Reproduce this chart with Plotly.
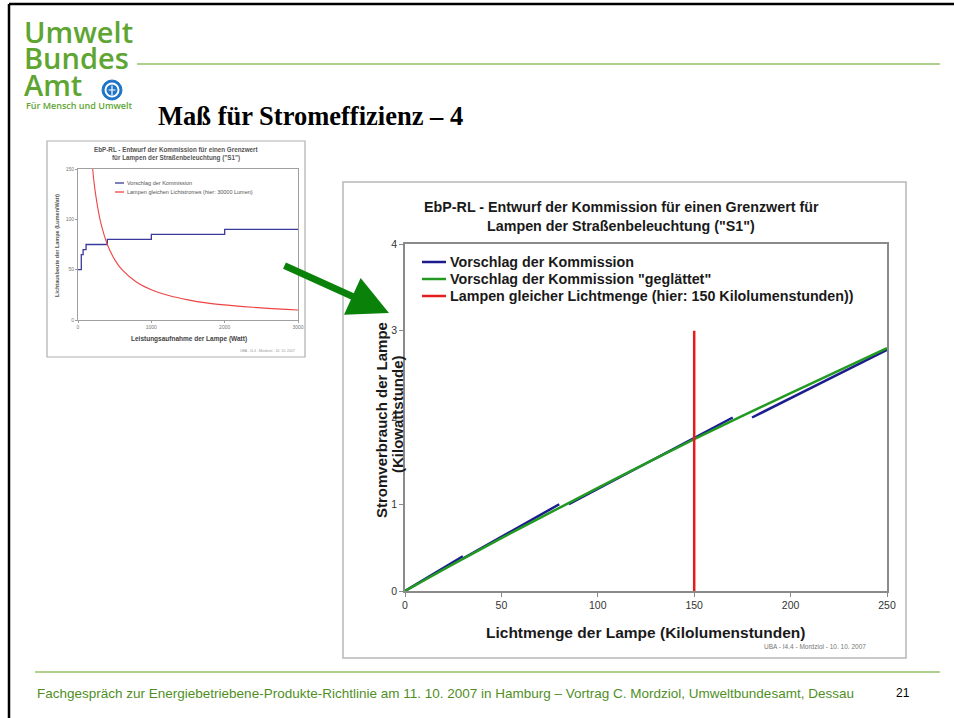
import plotly.graph_objects as go

W, H = 954, 718

# ---------------- data: main chart ----------------
blue_x = [0, 30, None, 30, 80, None, 85, 170, None, 180, 250]
blue_y = [0, 0.40, None, 0.375, 1.0, None, 1.0, 2.0, None, 2.0, 2.78]
green_x = [0, 25, 50, 75, 100, 125, 150, 175, 200, 225, 250]
green_y = [0, 0.31, 0.61, 0.90, 1.19, 1.47, 1.75, 2.02, 2.28, 2.54, 2.80]
red_x = [150, 150]
red_y = [0, 3]
main_xticks = [0, 50, 100, 150, 200, 250]
main_yticks = [0, 1, 2, 3, 4]
main_names = ["Vorschlag der Kommission",
              'Vorschlag der Kommission "geglättet"',
              "Lampen gleicher Lichtmenge (hier: 150 Kilolumenstunden))"]

# ---------------- data: inset chart ----------------
inset_blue_x = [0, 45, 70, 110, 400, 1000, 2000, 3000]
inset_blue_y = [50, 65, 70, 75, 80, 85, 90, 90]
inset_red_x = [185, 220, 250, 300, 350, 400, 500, 600, 800, 1000, 1250, 1500, 1750, 2000, 2500, 3000]
inset_red_y = [162, 136, 120, 100, 86, 75, 60, 50, 37.5, 30, 24, 20, 17, 15, 12, 10]
inset_xticks = [0, 1000, 2000, 3000]
inset_yticks = [0, 50, 100, 150]
inset_names = ["Vorschlag der Kommission", "Lampen gleichen Lichtstromes (hier: 30000 Lumen)"]

NAVY = "#1c1c8f"
GREEN = "#229a22"
RED = "#e41e1e"
LOGO_GREEN = "#5ea532"
LINE_GREEN = "#95c267"
FOOT_GREEN = "#4f8f1f"
I_BLUE = "#3a3a9a"
I_RED = "#ee4444"


def px(x):
    return x / W


def py(y):
    return 1 - y / H


fig = go.Figure()

# main chart traces
fig.add_trace(go.Scatter(x=blue_x, y=blue_y, mode="lines", name=main_names[0], showlegend=False,
                         line=dict(color=NAVY, width=2.5), xaxis="x", yaxis="y"))
fig.add_trace(go.Scatter(x=green_x, y=green_y, mode="lines", name=main_names[1], showlegend=False,
                         line=dict(color=GREEN, width=2.5, shape="spline"), xaxis="x", yaxis="y"))
fig.add_trace(go.Scatter(x=red_x, y=red_y, mode="lines", name=main_names[2], showlegend=False,
                         line=dict(color=RED, width=2.5), xaxis="x", yaxis="y"))

# inset traces
fig.add_trace(go.Scatter(x=inset_blue_x, y=inset_blue_y, mode="lines", name=inset_names[0], showlegend=False,
                         line=dict(color=I_BLUE, width=1.3, shape="hv"), xaxis="x2", yaxis="y2"))
fig.add_trace(go.Scatter(x=inset_red_x, y=inset_red_y, mode="lines", name=inset_names[1], showlegend=False,
                         line=dict(color=I_RED, width=1.1, shape="spline"), xaxis="x2", yaxis="y2"))

axis_common = dict(showgrid=False, zeroline=False, showline=True, mirror=True, ticks="outside")

fig.update_layout(
    width=W, height=H, autosize=False,
    margin=dict(l=0, r=0, t=0, b=0, autoexpand=False),
    paper_bgcolor="white", plot_bgcolor="white",
    font=dict(family="Liberation Sans, Arial, sans-serif"),
    xaxis=dict(domain=[px(405), px(887)], range=[0, 250], tickvals=main_xticks,
               linecolor="#8a8a8a", linewidth=1.5, ticklen=4, tickcolor="#8a8a8a",
               tickfont=dict(size=10.5, color="#333333"), anchor="y", **axis_common),
    yaxis=dict(domain=[py(591), py(244)], range=[0, 4], tickvals=main_yticks,
               linecolor="#8a8a8a", linewidth=1.5, ticklen=4, tickcolor="#8a8a8a",
               tickfont=dict(size=10.5, color="#333333"), anchor="x", **axis_common),
    xaxis2=dict(domain=[px(78), px(298)], range=[0, 3000], tickvals=inset_xticks,
                linecolor="#a0a0a0", linewidth=1, ticklen=2, tickcolor="#a0a0a0",
                tickfont=dict(size=5, color="#777777"), anchor="y2", **axis_common),
    yaxis2=dict(domain=[py(320), py(169)], range=[0, 150], tickvals=inset_yticks,
                linecolor="#a0a0a0", linewidth=1, ticklen=2, tickcolor="#a0a0a0",
                tickfont=dict(size=5, color="#777777"), anchor="x2", **axis_common),
    showlegend=False,
)


def hline(x0, x1, y, color, width):
    return dict(type="line", xref="paper", yref="paper", x0=px(x0), x1=px(x1), y0=py(y), y1=py(y),
                line=dict(color=color, width=width))


shapes = []
# slide frame (top & left)
shapes.append(hline(9, 954, 4, "black", 2.5))
shapes.append(dict(type="line", xref="paper", yref="paper", x0=px(9), x1=px(9), y0=py(4), y1=py(718),
                   line=dict(color="black", width=2.5)))
# header and footer green rules
shapes.append(hline(137, 940, 64, LINE_GREEN, 1.5))
shapes.append(hline(35, 940, 672, LINE_GREEN, 1.5))
# logo emblem
shapes.append(dict(type="circle", xref="paper", yref="paper", x0=px(102), x1=px(122), y0=py(100), y1=py(80),
                   fillcolor="#1f74c8", line=dict(color="#1f74c8", width=1)))
shapes.append(dict(type="circle", xref="paper", yref="paper", x0=px(104.5), x1=px(119.5), y0=py(97.5), y1=py(82.5),
                   fillcolor="white", line=dict(width=0)))
shapes.append(dict(type="circle", xref="paper", yref="paper", x0=px(106.5), x1=px(117.5), y0=py(95.5), y1=py(84.5),
                   fillcolor="#1f74c8", line=dict(width=0)))
shapes.append(dict(type="path", xref="paper", yref="paper",
                   path=f"M {px(112)},{py(85.5)} L {px(112)},{py(95)} M {px(108.5)},{py(90)} L {px(115.5)},{py(90)}",
                   line=dict(color="white", width=1.2)))
# inset box
shapes.append(dict(type="rect", xref="paper", yref="paper", x0=px(47), x1=px(305), y0=py(357), y1=py(141),
                   line=dict(color="#b0b0b0", width=1.2), layer="below"))
# main chart box
shapes.append(dict(type="rect", xref="paper", yref="paper", x0=px(343), x1=px(906), y0=py(658), y1=py(182),
                   line=dict(color="#b8b8b8", width=1.5), layer="below"))
# legend samples (main)
main_colors = [NAVY, GREEN, RED]
main_leg_y = [262, 279, 296]
for c, yy in zip(main_colors, main_leg_y):
    shapes.append(hline(422, 446, yy, c, 2.5))
# legend samples (inset)
inset_leg_y = [183, 192]
for c, yy in zip([I_BLUE, I_RED], inset_leg_y):
    shapes.append(hline(115, 124, yy, c, 1.3))
fig.update_layout(shapes=shapes)

ann = []


def text(x, y, s, size, color="#000000", xanchor="left", yanchor="middle", family=None, weight="normal",
         angle=0, align="left", height=None):
    d = dict(x=px(x), y=py(y), xref="paper", yref="paper", text=s, showarrow=False,
             xanchor=xanchor, yanchor=yanchor, textangle=angle, align=align,
             font=dict(size=size, color=color, weight=weight))
    if family:
        d["font"]["family"] = family
    if height:
        d["height"] = height
        d["valign"] = "middle"
    ann.append(d)


# logo
text(22, 31, "Umwelt", 29, LOGO_GREEN, family="Open Sans, sans-serif", weight=600, height=25)
text(22, 57, "Bundes", 29, LOGO_GREEN, family="Open Sans, sans-serif", weight=600, height=25)
text(22, 84, "Amt", 29, LOGO_GREEN, family="Open Sans, sans-serif", weight=600, height=25)
text(24, 105, "Für Mensch und Umwelt", 9, LOGO_GREEN, family="Open Sans, sans-serif", weight=600)

# slide title
text(156, 116, "Maß für Stromeffizienz – 4", 26.5, "#000000", family="Liberation Serif, Times New Roman, serif",
     weight="bold")

# main chart texts
text(621, 207, "EbP-RL - Entwurf der Kommission für einen Grenzwert für", 14.3, "#1a1a1a",
     xanchor="center", weight="bold")
text(621, 226, "Lampen der Straßenbeleuchtung (\"S1\")", 14.3, "#1a1a1a", xanchor="center", weight="bold")
text(646, 632, "Lichtmenge der Lampe (Kilolumenstunden)", 15.5, "#1a1a1a", xanchor="center", weight="bold")
text(381, 420, "Stromverbrauch der Lampe", 15, "#1a1a1a", xanchor="center", weight="bold", angle=-90)
text(398, 414, "(Kilowattstunde)", 15, "#1a1a1a", xanchor="center", weight="bold", angle=-90)
text(868, 646, "UBA - I4.4 - Mordziol - 10. 10. 2007", 6.5, "#777777", xanchor="right")
for name, yy in zip(main_names, main_leg_y):
    text(448, yy, name, 14.3, "#1a1a1a", weight="bold")

# inset texts
text(176, 150, "EbP-RL - Entwurf der Kommission für einen Grenzwert", 6.3, "#555555",
     xanchor="center", weight="bold")
text(176, 158, "für Lampen der Straßenbeleuchtung (\"S1\")", 6.3, "#555555", xanchor="center", weight="bold")
text(189, 339, "Leistungsaufnahme der Lampe (Watt)", 6.5, "#444444", xanchor="center", weight="bold")
text(57, 246, "Lichtausbeute der Lampe (Lumen/Watt)", 5.5, "#555555", xanchor="center", weight="bold", angle=-90)
text(297, 351, "UBA - I4.4 - Mordziol - 10. 10. 2007", 3.5, "#999999", xanchor="right")
for name, yy in zip(inset_names, inset_leg_y):
    text(125, yy, name, 5.5, "#555555")

# footer
text(35, 693, "Fachgespräch zur Energiebetriebene-Produkte-Richtlinie am 11. 10. 2007 in Hamburg – "
              "Vortrag C. Mordziol, Umweltbundesamt, Dessau", 13.5, FOOT_GREEN,
     family="Liberation Sans, Arial, sans-serif")
text(912, 693, "21", 12, "#000000", xanchor="right")

# green arrow
ann.append(dict(x=px(389), y=py(313), xref="paper", yref="paper", ax=283 - 389, ay=265 - 313,
                axref="pixel", ayref="pixel", showarrow=True, arrowhead=2, arrowsize=1.15,
                arrowwidth=7, arrowcolor="#0a820a", text=""))

fig.update_layout(annotations=ann)

fig.write_html(
    "out.html",
    config={"displayModeBar": False},
    post_script=("document.documentElement.style.margin='0';document.body.style.margin='0';"
                 "document.body.style.padding='0';document.documentElement.style.overflow='hidden';"
                 "document.body.style.overflow='hidden';"),
)
